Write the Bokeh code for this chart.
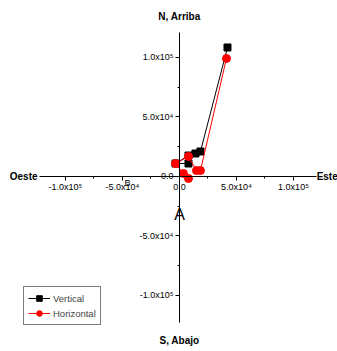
from bokeh.plotting import figure
from bokeh.models import LinearAxis, FixedTicker, Label, Legend, LegendItem, Range1d
from bokeh.embed import file_html
from bokeh.resources import INLINE

# data
vert_x = [7900, -3500, 7900, 14000, 18400, 42100]
vert_y = [10900, 10900, 17600, 19300, 21000, 108400]
horiz_x = [7900, 3500, -3500, 7900, 14900, 18400, 41200]
horiz_y = [-1700, 2500, 10900, 16800, 5000, 5000, 99200]

x_ticks = [-100000, -50000, 0, 50000, 100000]
x_minor = [-75000, -25000, 25000, 75000]
x_labels = ["-1.0x10\u2075", "-5.0x10\u2074", "0.0", "5.0x10\u2074", "1.0x10\u2075"]
y_ticks = [-100000, -50000, 0, 50000, 100000]
y_minor = [-75000, -25000, 25000, 75000]
y_labels = ["-1.0x10\u2075", "-5.0x10\u2074", "0.0", "5.0x10\u2074", "1.0x10\u2075"]
x_bounds = (-122800, 120200)
y_bounds = (-122700, 121000)

FONT = "Liberation Sans"

p = figure(width=337, height=351, output_backend="svg", toolbar_location=None,
           x_range=Range1d(-157000, 138600), y_range=Range1d(-147100, 147900),
           x_axis_type=None, y_axis_type=None,
           min_border_left=0, min_border_right=0, min_border_top=0, min_border_bottom=0)
p.outline_line_color = None
p.background_fill_color = "white"

def style_axis(ax):
    ax.axis_line_color = "black"
    ax.axis_line_width = 1
    ax.major_tick_out = 4
    ax.major_tick_in = 0
    ax.minor_tick_out = 2
    ax.minor_tick_in = 0
    ax.major_tick_line_color = "black"
    ax.minor_tick_line_color = "black"
    ax.major_label_text_font = FONT
    ax.major_label_text_font_size = "9px"
    ax.major_label_text_color = "black"
    ax.major_label_standoff = 2

xaxis = LinearAxis(fixed_location=0, bounds=x_bounds,
                   ticker=FixedTicker(ticks=x_ticks, minor_ticks=x_minor),
                   major_label_overrides={t: l for t, l in zip(x_ticks, x_labels)})
style_axis(xaxis)
p.add_layout(xaxis, "below")

yaxis = LinearAxis(fixed_location=0, bounds=y_bounds,
                   ticker=FixedTicker(ticks=y_ticks, minor_ticks=y_minor),
                   major_label_overrides={t: l for t, l in zip(y_ticks, y_labels)})
style_axis(yaxis)
p.add_layout(yaxis, "left")

l1 = p.line(vert_x, vert_y, line_color="black", line_width=1)
s1 = p.scatter(vert_x, vert_y, marker="square", size=7, fill_color="black", line_color="black")
l2 = p.line(horiz_x, horiz_y, line_color="red", line_width=1)
s2 = p.scatter(horiz_x, horiz_y, marker="circle", size=8, fill_color="red", line_color="red")

legend = Legend(items=[LegendItem(label="Vertical", renderers=[l1, s1]),
                       LegendItem(label="Horizontal", renderers=[l2, s2])],
                location=(23, 26), border_line_color="black", border_line_width=1,
                background_fill_color="white", background_fill_alpha=1,
                label_text_font=FONT, label_text_font_size="9.5px",
                glyph_height=14, glyph_width=22, label_height=14, spacing=1,
                padding=4, margin=0, label_standoff=3)
p.add_layout(legend)

def lab(text, x, y, align, size, style="normal"):
    p.add_layout(Label(x=x, y=y, text=text, text_align=align, text_baseline="middle",
                       text_font=FONT, text_font_size=size, text_font_style=style,
                       text_color="black"))

lab("N, Arriba", 0, 134400, "center", "10px", "bold")
lab("S, Abajo", 0, -137800, "center", "10px", "bold")
lab("Oeste", -124500, 0, "right", "10px", "bold")
lab("Este", 120300, 0, "left", "10px", "bold")
lab("A", 0, -32000, "center", "16px")
lab("B", -45600, -5900, "center", "9px")

open("out.html", "w").write(file_html(p, INLINE))
